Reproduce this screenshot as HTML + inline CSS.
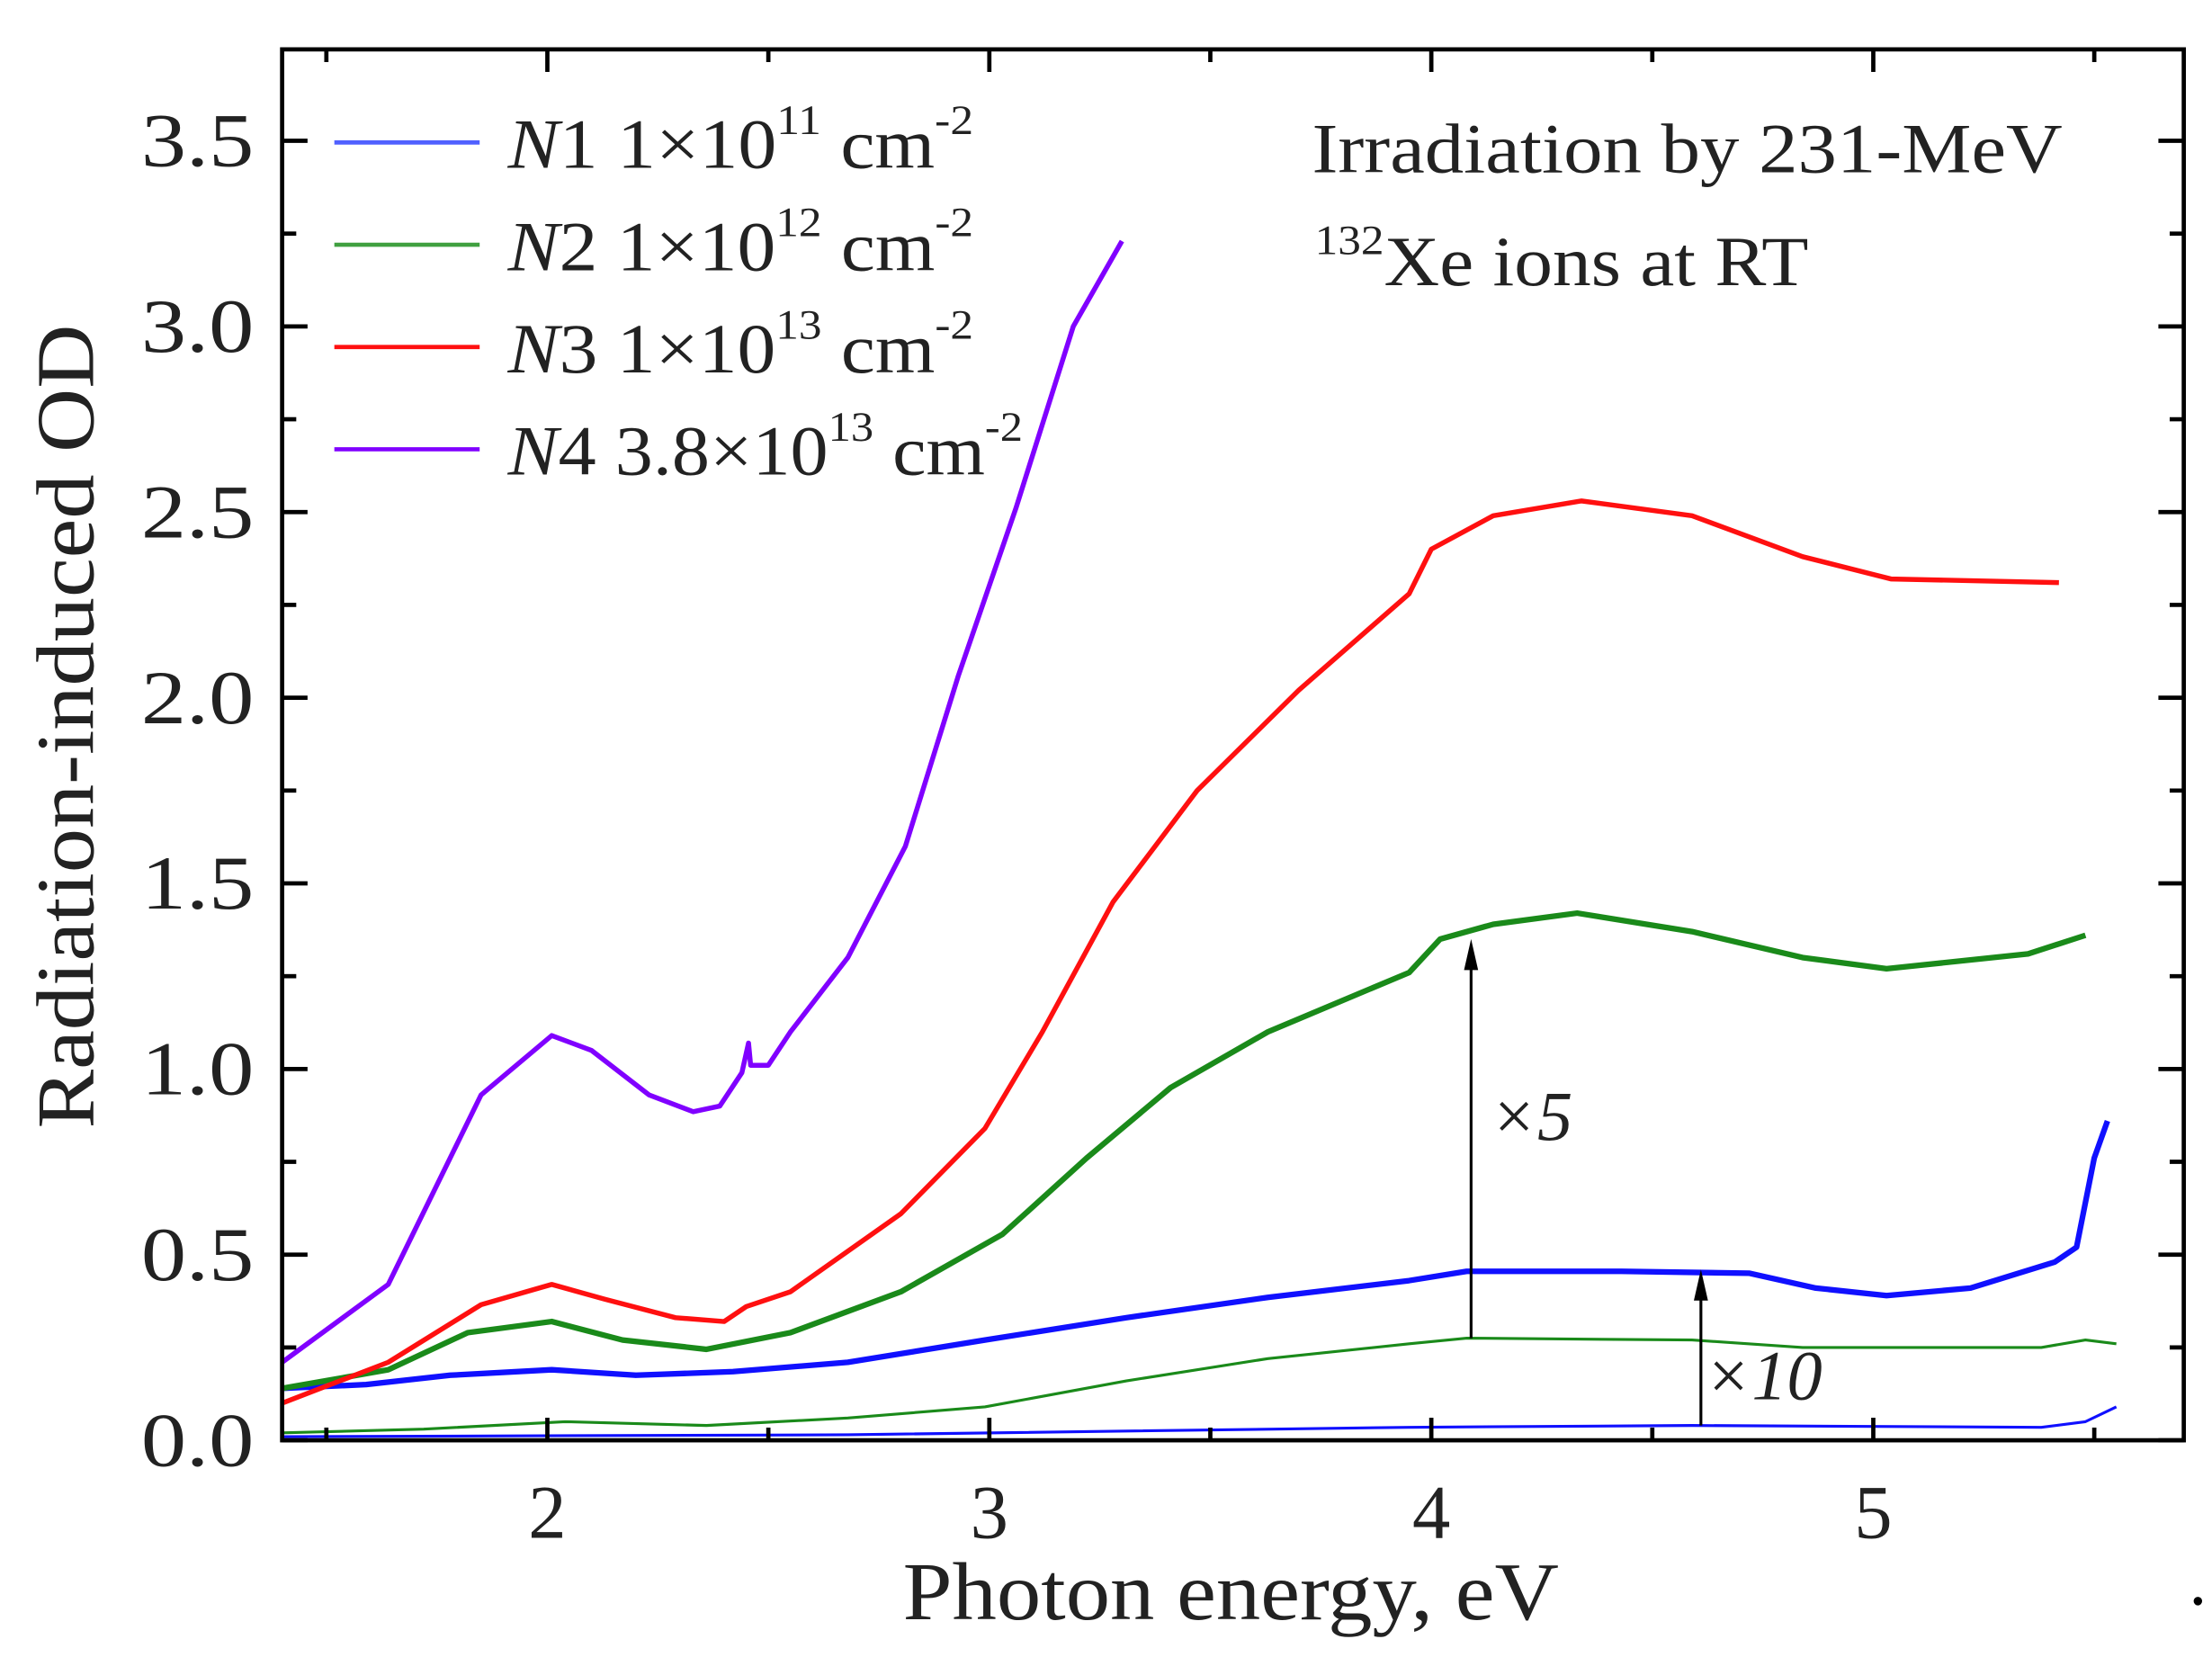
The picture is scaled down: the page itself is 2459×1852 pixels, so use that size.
<!DOCTYPE html>
<html><head><meta charset="utf-8"><style>
html,body{margin:0;padding:0;background:#fff;}
svg{display:block;font-family:"Liberation Serif",serif;}
</style></head><body>
<svg id="chart" width="2459" height="1852" viewBox="0 0 1568 1181" preserveAspectRatio="none" xmlns="http://www.w3.org/2000/svg">
<g id="plot"></g>
</svg>
<script>
const xTicks=[2,3,4,5];
const yTicks=[0,0.5,1,1.5,2,2.5,3,3.5];
const yTickLabels=["0.0","0.5","1.0","1.5","2.0","2.5","3.0","3.5"];
const n4X=[1.40,1.64,1.85,2.01,2.10,2.23,2.33,2.39,2.44,2.455,2.46,2.50,2.55,2.68,2.81,2.93,3.06,3.19,3.30];
const n4Y=[0.21,0.42,0.93,1.09,1.05,0.93,0.885,0.90,0.99,1.07,1.01,1.01,1.10,1.30,1.60,2.06,2.51,3.00,3.23];
const n3X=[1.40,1.64,1.85,2.01,2.13,2.29,2.40,2.45,2.55,2.80,2.99,3.12,3.28,3.47,3.70,3.95,4.00,4.14,4.34,4.59,4.84,5.04,5.42];
const n3Y=[0.10,0.21,0.365,0.42,0.38,0.33,0.32,0.36,0.40,0.61,0.84,1.10,1.45,1.75,2.02,2.28,2.40,2.49,2.53,2.49,2.38,2.32,2.31];
const n2X=[1.40,1.64,1.82,2.01,2.17,2.36,2.55,2.80,3.03,3.22,3.41,3.63,3.95,4.02,4.14,4.33,4.59,4.84,5.03,5.35,5.48];
const n2Y=[0.14,0.19,0.29,0.32,0.27,0.245,0.29,0.40,0.555,0.76,0.95,1.10,1.26,1.35,1.39,1.42,1.37,1.30,1.27,1.31,1.36];
const n1X=[1.40,1.59,1.78,2.01,2.20,2.42,2.68,2.99,3.31,3.63,3.95,4.08,4.43,4.72,4.87,5.03,5.22,5.41,5.46,5.50,5.53];
const n1Y=[0.14,0.15,0.175,0.19,0.175,0.185,0.21,0.27,0.33,0.385,0.43,0.455,0.455,0.45,0.41,0.39,0.41,0.48,0.52,0.76,0.86];
const n2sX=[1.40,1.72,2.04,2.36,2.68,2.99,3.31,3.63,3.95,4.08,4.59,4.84,5.38,5.48,5.55];
const n2sY=[0.02,0.03,0.05,0.04,0.06,0.09,0.16,0.22,0.26,0.275,0.27,0.25,0.25,0.27,0.26];
const n1sX=[1.40,2.68,3.95,4.59,5.38,5.48,5.55];
const n1sY=[0.01,0.015,0.035,0.04,0.035,0.05,0.09];

const L=200,R=1548,T=35,B=1021;
const X=v=>388+(v-2)*313.3;
const Y=v=>1021-v*263.2;
const NS="http://www.w3.org/2000/svg";
const g=document.getElementById('plot');
function mk(tag,attrs,parent){const e=document.createElementNS(NS,tag);for(const k in attrs)e.setAttribute(k,attrs[k]);(parent||g).appendChild(e);return e;}

function series(xs,ys,color,w,name){
  const p=mk('polyline',{points:xs.map((x,i)=>X(x).toFixed(1)+','+Y(ys[i]).toFixed(1)).join(' '),fill:'none',stroke:color,'stroke-width':w,'stroke-linejoin':'round'});
  
  
}
series(n1sX,n1sY,'#1010ff',2,'series-n1-x10');
series(n2sX,n2sY,'#1a8a1a',2,'series-n2-x5');
series(n1X,n1Y,'#1010ff',4,'series-n1');
series(n2X,n2Y,'#1a8a1a',4,'series-n2');
series(n3X,n3Y,'#ff1010',3.5,'series-n3');
series(n4X,n4Y,'#8000ff',3.5,'series-n4');

function arrow(x,y0,y1,name){
  const a=mk('g',{});
  
  
  mk('line',{x1:X(x),y1:Y(y0),x2:X(x),y2:Y(y1)+18,stroke:'#000','stroke-width':2},a);
  mk('polygon',{points:`${X(x)-5},${Y(y1)+22} ${X(x)+5},${Y(y1)+22} ${X(x)},${Y(y1)}`,fill:'#000'},a);
}
arrow(4.09,0.275,1.35,'arrow-x5');
arrow(4.61,0.04,0.46,'arrow-x10');
let t=mk('text',{x:1056,y:808,'font-size':50,'font-style':'italic',fill:'#222'});t.textContent='×5';

t=mk('text',{x:1208,y:992,'font-size':50,'font-style':'italic',fill:'#222'});t.textContent='×10';


const fr=mk('rect',{x:L,y:T,width:R-L,height:B-T,fill:'none',stroke:'#000','stroke-width':3});


for(let v=1.5;v<=5.5001;v+=0.5){
  const maj=Math.abs(v-Math.round(v))<1e-6;const len=maj?16:9;
  mk('line',{x1:X(v),y1:B,x2:X(v),y2:B-len,stroke:'#000','stroke-width':3});
  mk('line',{x1:X(v),y1:T,x2:X(v),y2:T+len,stroke:'#000','stroke-width':3});
}
xTicks.forEach(v=>{const e=mk('text',{x:X(v),y:1090,'font-size':54,'text-anchor':'middle',fill:'#222'});e.textContent=v;
});
for(let v=0;v<=3.5001;v+=0.25){
  const maj=Math.abs(v*2-Math.round(v*2))<1e-6;const len=maj?18:10;
  mk('line',{x1:L,y1:Y(v),x2:L+len,y2:Y(v),stroke:'#000','stroke-width':3});
  mk('line',{x1:R,y1:Y(v),x2:R-len,y2:Y(v),stroke:'#000','stroke-width':3});
}
yTicks.forEach((v,i)=>{const e=mk('text',{x:180,y:Y(v)+18,'font-size':54,'text-anchor':'end',fill:'#222',textLength:80,lengthAdjust:'spacingAndGlyphs'});e.textContent=yTickLabels[i];
});

t=mk('text',{x:640,y:1148,'font-size':58,fill:'#222',textLength:465,lengthAdjust:'spacingAndGlyphs'});t.textContent='Photon energy, eV';

t=mk('text',{x:0,y:0,'font-size':58,fill:'#222',textLength:570,lengthAdjust:'spacingAndGlyphs',transform:'translate(66,800) rotate(-90)'});t.textContent='Radiation-induced OD';


const legN=['1','2','3','4'],legM=['1×10','1×10','1×10','3.8×10'],legE=['11','12','13','13'];
const legC=['#5060ff','#40a040','#ff1010','#8000ff'];
const legW=[330,330,330,365];
legN.forEach((n,i)=>{
  const y=101+i*72.5;
  const lg=mk('g',{});
  
  
  mk('line',{x1:237,y1:y,x2:340,y2:y,stroke:legC[i],'stroke-width':3},lg);
  const tx=mk('text',{x:360,y:y+18,'font-size':50,fill:'#222',textLength:legW[i],lengthAdjust:'spacingAndGlyphs'},lg);
  tx.setAttribute('xml:space','preserve');
  tx.innerHTML=`<tspan font-style="italic">N</tspan>${n}  ${legM[i]}<tspan font-size="30" dy="-24">${legE[i]}</tspan><tspan dy="24"> cm</tspan><tspan font-size="30" dy="-24">-2</tspan>`;
});

t=mk('text',{x:930,y:122,'font-size':50,fill:'#222',textLength:532,lengthAdjust:'spacingAndGlyphs'});t.setAttribute('xml:space','preserve');t.textContent='Irradiation  by 231-MeV';

t=mk('text',{x:932,y:202,'font-size':50,fill:'#222',textLength:350,lengthAdjust:'spacingAndGlyphs'});t.innerHTML='<tspan font-size="30" dy="-22">132</tspan><tspan dy="22">Xe ions at RT</tspan>';

mk('circle',{cx:1558,cy:1135,r:3,fill:'#000'});
</script>
</body></html>
